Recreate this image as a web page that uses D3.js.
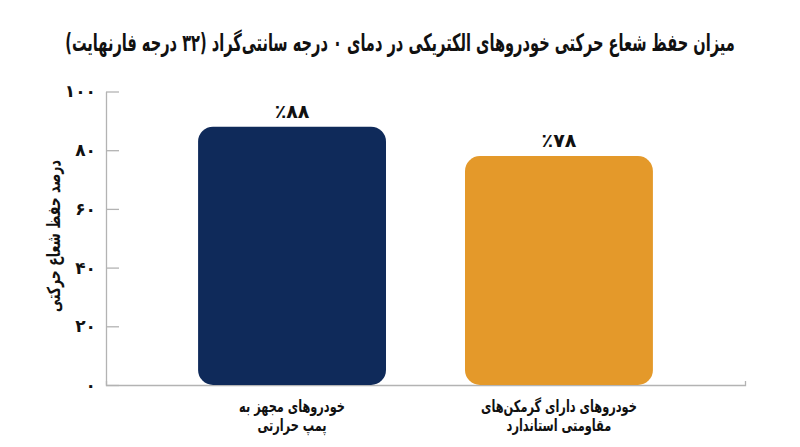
<!DOCTYPE html>
<html>
<head>
<meta charset="utf-8">
<script src="https://cdn.jsdelivr.net/npm/d3@7"></script>
<style>
  body { margin: 0; background: #fff; }
  svg { display: block; font-family: "DejaVu Sans", sans-serif; font-weight: bold; }
</style>
</head>
<body>
<div id="chart"></div>
<script>
// chart data
const categories = ["heat_pump", "resistive"];
const categoryLines = [
    ["خودروهای مجهز به", "پمپ حرارتی"],
    ["خودروهای دارای گرمکن‌های", "مقاومتی استاندارد"]
];
const values = [88, 78];
const barColors = ["#0f2a5a", "#e4992a"];
const yTicks = [0, 20, 40, 60, 80, 100];
const titleText = "میزان حفظ شعاع حرکتی خودروهای الکتریکی در دمای ۰ درجه سانتی‌گراد (۳۲ درجه فارنهایت)";
const yLabelText = "درصد حفظ شعاع حرکتی";

const W = 800, H = 447;
const margin = {top: 91.5, right: 55, bottom: 62, left: 106};
const width = W - margin.left - margin.right,
      height = H - margin.top - margin.bottom;

// persian digits
const fa = n => String(n).replace(/\d/g, d => "۰۱۲۳۴۵۶۷۸۹"[d]);

const svg = d3.select("#chart")
    .append("svg")
    .attr("width", W)
    .attr("height", H);

const g = svg.append("g")
    .attr("transform", `translate(${margin.left},${margin.top})`);

// squeeze a text horizontally so it spans the given width
function fitWidth(sel, cx, cy, target, rot) {
    const w = sel.node().getComputedTextLength();
    const s = Math.min(1, target / w);
    sel.attr("x", 0).attr("y", 0)
        .attr("transform", `translate(${cx},${cy})${rot ? " rotate(" + rot + ")" : ""} scale(${s},1)`);
}

// title
const title = svg.append("text")
    .attr("text-anchor", "middle")
    .attr("direction", "rtl")
    .attr("font-size", 24)
    .attr("fill", "#111")
    .text(titleText);
fitWidth(title, W / 2, 51, 670);

const x = d3.scaleBand()
    .domain(categories)
    .range([0, width])
    .paddingInner(0.296)
    .paddingOuter(0.345);

const y = d3.scaleLinear()
    .domain([0, 100])
    .range([height, 0]);

// Y axis
const yAxis = g.append("g")
    .call(d3.axisLeft(y).tickValues(yTicks).tickFormat(fa)
        .tickSize(-13).tickSizeOuter(0).tickPadding(10));
yAxis.selectAll("line, path").attr("stroke", "#b3b3b3").attr("stroke-width", 1.3);
yAxis.selectAll("text")
    .attr("font-family", "DejaVu Sans, sans-serif")
    .attr("font-weight", "bold")
    .attr("font-size", 17)
    .attr("fill", "#111");

// X axis (baseline only)
const xAxis = g.append("g")
    .attr("transform", `translate(0,${height})`)
    .call(d3.axisBottom(x).tickSize(0).tickSizeOuter(-4).tickFormat(""));
xAxis.selectAll("path").attr("stroke", "#b3b3b3").attr("stroke-width", 1.3);

// bars
g.selectAll(".bar")
    .data(values)
    .join("rect")
    .attr("class", "bar")
    .attr("x", (d, i) => x(categories[i]))
    .attr("y", d => y(d))
    .attr("width", x.bandwidth())
    .attr("height", d => height - y(d))
    .attr("rx", 15)
    .attr("fill", (d, i) => barColors[i]);

// value labels
g.selectAll(".val")
    .data(values)
    .join("text")
    .attr("class", "val")
    .attr("x", (d, i) => x(categories[i]) + x.bandwidth() / 2)
    .attr("y", d => y(d) - 9)
    .attr("text-anchor", "middle")
    .attr("font-size", 19)
    .attr("fill", "#111")
    .text(d => "٪" + fa(d));

// category labels, two lines each
const cat = g.selectAll(".cat")
    .data(categoryLines)
    .join("text")
    .attr("class", "cat")
    .attr("direction", "rtl")
    .attr("text-anchor", "middle")
    .attr("font-size", 16.5)
    .attr("fill", "#111");
cat.selectAll("tspan")
    .data((d, i) => d.map(t => ({t, i})))
    .join("tspan")
    .attr("x", d => x(categories[d.i]) + x.bandwidth() / 2)
    .attr("y", (d, j) => height + 27 + j * 19.5)
    .text(d => d.t);
cat.each(function(d, i) {
    const t = d3.select(this);
    const w = d3.max(t.selectAll("tspan").nodes(), n => n.getComputedTextLength());
    const target = i === 0 ? 106 : 156;
    const s = Math.min(1, target / w);
    const cx = x(categories[i]) + x.bandwidth() / 2;
    t.attr("transform", `translate(${cx},0) scale(${s},1) translate(${-cx},0)`);
});

// y label
const yl = svg.append("text")
    .attr("text-anchor", "middle")
    .attr("direction", "rtl")
    .attr("font-size", 18)
    .attr("fill", "#111")
    .text(yLabelText);
fitWidth(yl, 60, 236, 152, -90);
</script>
</body>
</html>
